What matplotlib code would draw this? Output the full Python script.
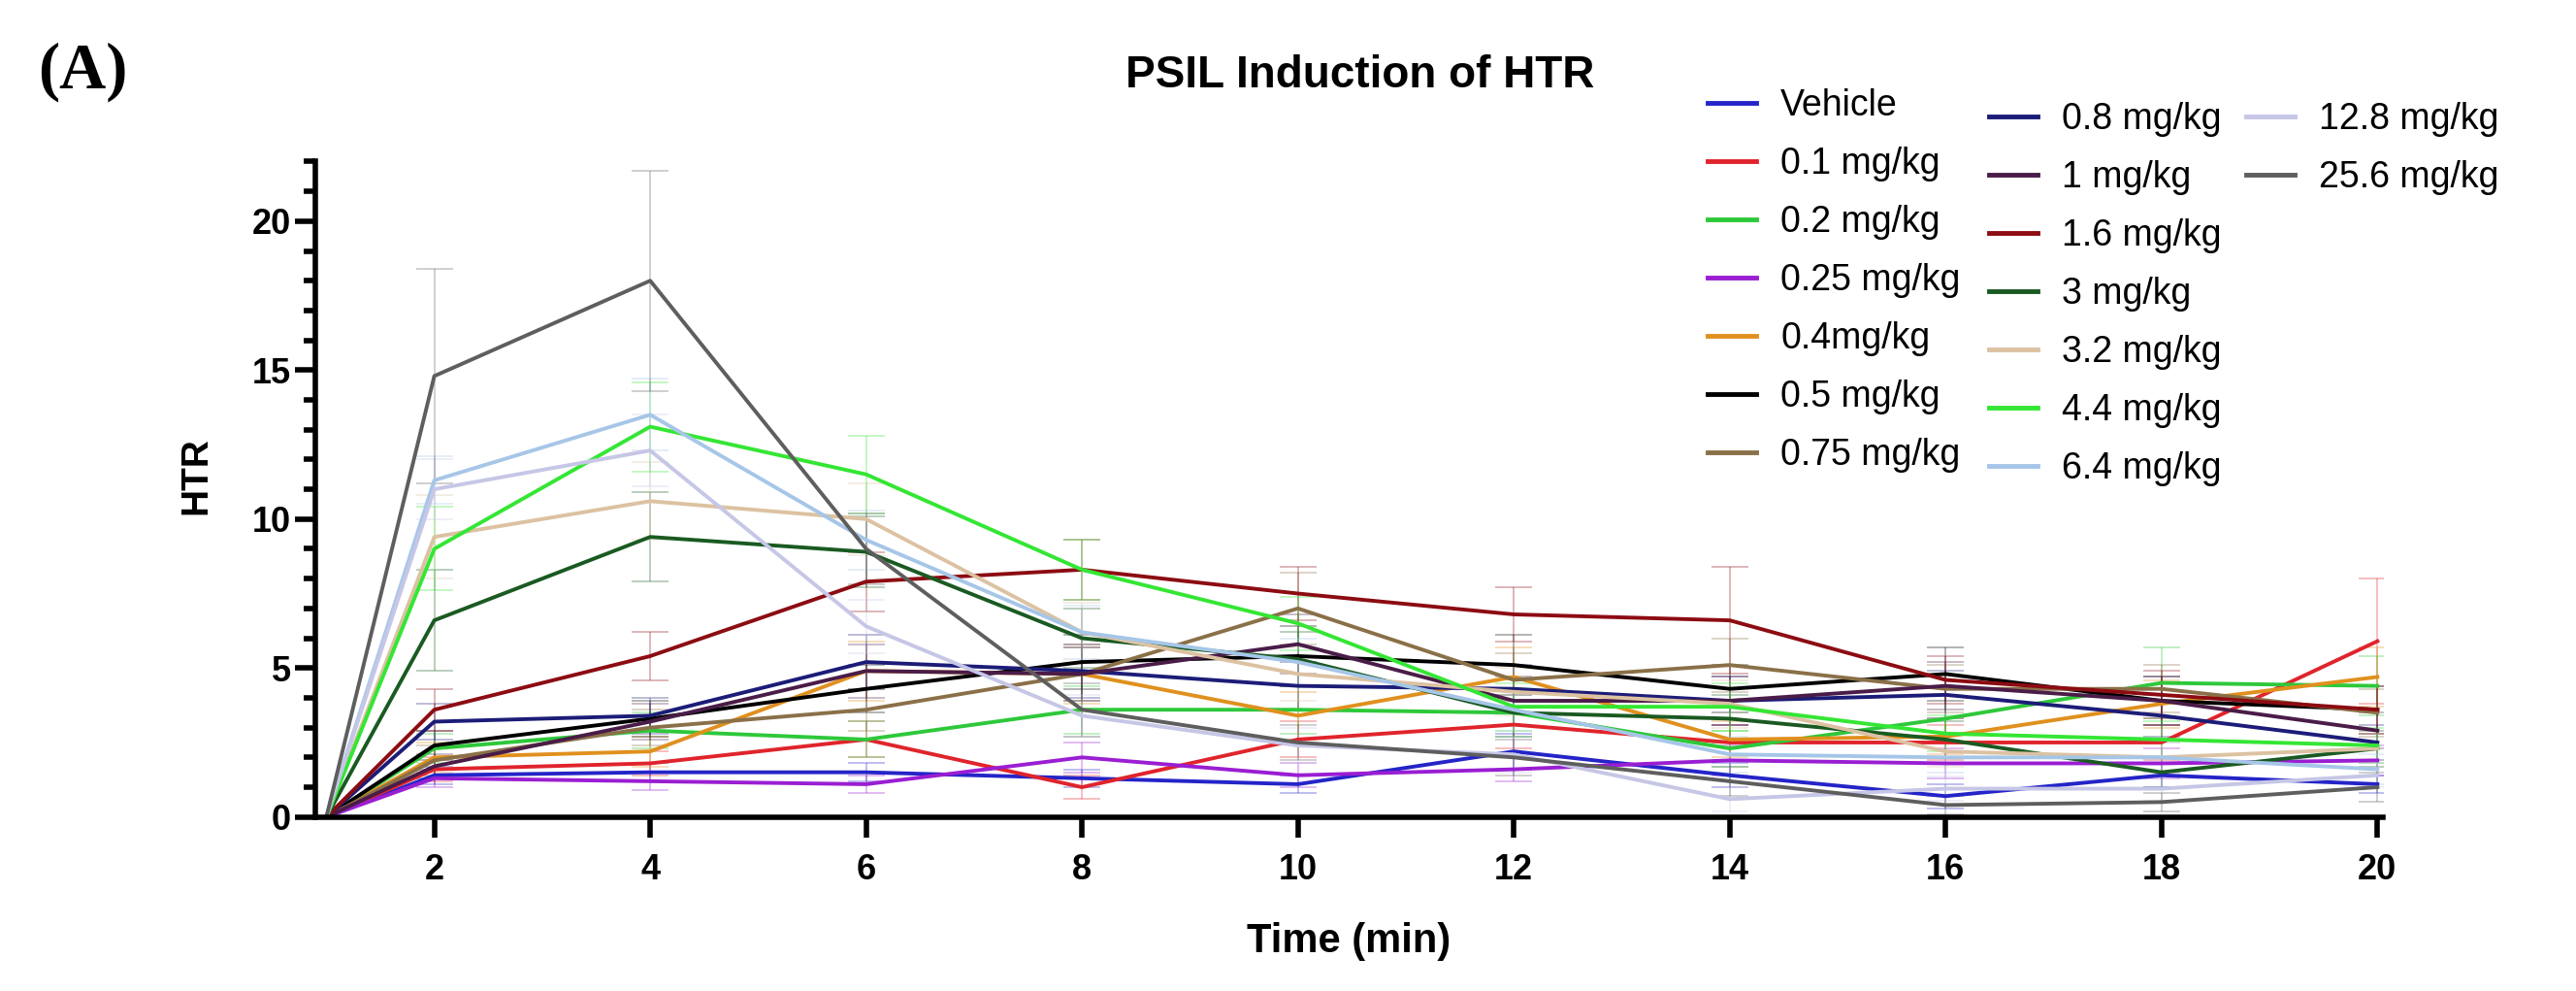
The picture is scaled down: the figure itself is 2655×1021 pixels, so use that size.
import matplotlib
matplotlib.use("Agg")
import matplotlib.pyplot as plt
from matplotlib.lines import Line2D
from matplotlib.ticker import MultipleLocator

plt.rcParams['font.family'] = ['Liberation Sans', 'DejaVu Sans']

# time points (first point is the 0 baseline at the axis origin)
time = [1, 2, 4, 6, 8, 10, 12, 14, 16, 18, 20]

labels = ["Vehicle", "0.1 mg/kg", "0.2 mg/kg", "0.25 mg/kg", "0.4mg/kg", "0.5 mg/kg",
          "0.75 mg/kg", "0.8 mg/kg", "1 mg/kg", "1.6 mg/kg", "3 mg/kg", "3.2 mg/kg",
          "4.4 mg/kg", "6.4 mg/kg", "12.8 mg/kg", "25.6 mg/kg"]

colors = ["#2424c8", "#e0242c", "#2ec83a", "#9a1ed2", "#e0901e", "#000000",
          "#8a7048", "#1c1c78", "#4a1c48", "#8c0c12", "#1a5a22", "#dcc2a2",
          "#34e634", "#a6c6e8", "#c6c6e6", "#5e5e5e"]

vehicle = [0, 1.4, 1.5, 1.5, 1.3, 1.1, 2.2, 1.4, 0.7, 1.4, 1.1]
d0_1 = [0, 1.6, 1.8, 2.6, 1.0, 2.6, 3.1, 2.5, 2.5, 2.5, 5.9]
d0_2 = [0, 2.3, 2.9, 2.6, 3.6, 3.6, 3.5, 2.3, 3.3, 4.5, 4.4]
d0_25 = [0, 1.3, 1.2, 1.1, 2.0, 1.4, 1.6, 1.9, 1.8, 1.8, 1.9]
d0_4 = [0, 2.0, 2.2, 4.9, 4.8, 3.4, 4.7, 2.6, 2.7, 3.8, 4.7]
d0_5 = [0, 2.4, 3.3, 4.3, 5.2, 5.4, 5.1, 4.3, 4.8, 3.9, 3.6]
d0_75 = [0, 1.9, 3.0, 3.6, 4.8, 7.0, 4.6, 5.1, 4.3, 4.3, 3.5]
d0_8 = [0, 3.2, 3.4, 5.2, 4.9, 4.4, 4.3, 3.9, 4.1, 3.4, 2.5]
d1 = [0, 1.7, 3.2, 4.9, 4.8, 5.8, 3.9, 3.9, 4.4, 3.9, 2.9]
d1_6 = [0, 3.6, 5.4, 7.9, 8.3, 7.5, 6.8, 6.6, 4.6, 4.1, 3.6]
d3 = [0, 6.6, 9.4, 8.9, 6.0, 5.3, 3.5, 3.3, 2.6, 1.5, 2.3]
d3_2 = [0, 9.4, 10.6, 10.0, 6.2, 4.8, 4.2, 3.8, 2.2, 2.0, 2.3]
d4_4 = [0, 9.0, 13.1, 11.5, 8.3, 6.5, 3.7, 3.7, 2.8, 2.6, 2.4]
d6_4 = [0, 11.3, 13.5, 9.3, 6.2, 5.2, 3.6, 2.1, 2.0, 2.0, 1.6]
d12_8 = [0, 11.0, 12.3, 6.4, 3.4, 2.4, 2.1, 0.6, 0.95, 0.95, 1.4]
d25_6 = [0, 14.8, 18.0, 9.0, 3.6, 2.5, 2.0, 1.2, 0.4, 0.5, 1.0]

# SEM
sem_vehicle = [0, 0.3, 0.3, 0.3, 0.3, 0.3, 0.6, 0.4, 0.4, 0.4, 0.3]
sem_0_1 = [0, 0.4, 0.4, 0.6, 0.4, 0.6, 0.8, 0.6, 0.6, 0.6, 2.1]
sem_0_2 = [0, 0.5, 0.6, 0.6, 0.8, 0.8, 0.8, 0.6, 0.8, 1.2, 1.0]
sem_0_25 = [0, 0.3, 0.3, 0.3, 0.5, 0.4, 0.4, 0.5, 0.5, 0.5, 0.5]
sem_0_4 = [0, 0.5, 0.5, 1.0, 1.0, 0.8, 1.0, 0.6, 0.6, 0.8, 1.0]
sem_0_5 = [0, 0.5, 0.6, 0.8, 0.9, 1.0, 1.0, 0.8, 0.9, 0.8, 0.8]
sem_0_75 = [0, 0.5, 0.6, 0.7, 0.9, 1.2, 0.9, 0.9, 0.8, 0.8, 0.8]
sem_0_8 = [0, 0.6, 0.6, 0.9, 0.9, 0.8, 0.8, 0.8, 0.8, 0.7, 0.6]
sem_1 = [0, 0.4, 0.6, 0.9, 0.9, 1.0, 0.8, 0.8, 0.8, 0.8, 0.6]
sem_1_6 = [0, 0.7, 0.8, 1.0, 1.0, 0.9, 0.9, 1.8, 0.8, 0.8, 0.8]
sem_3 = [0, 1.7, 1.5, 1.2, 1.0, 0.9, 0.8, 0.8, 0.6, 0.5, 0.6]
sem_3_2 = [0, 1.4, 1.3, 1.2, 1.0, 0.9, 0.8, 0.8, 0.5, 0.5, 0.5]
sem_4_4 = [0, 1.4, 1.5, 1.3, 1.0, 0.9, 0.8, 0.8, 0.6, 0.6, 0.6]
sem_6_4 = [0, 0.8, 1.2, 1.0, 0.9, 0.8, 0.7, 0.6, 0.5, 0.5, 0.5]
sem_12_8 = [0, 1.0, 1.2, 0.9, 0.7, 0.6, 0.6, 0.4, 0.4, 0.4, 0.4]
sem_25_6 = [0, 3.6, 3.7, 1.2, 0.9, 0.6, 0.6, 0.5, 0.3, 0.3, 0.5]

series = [vehicle, d0_1, d0_2, d0_25, d0_4, d0_5, d0_75, d0_8, d1, d1_6,
          d3, d3_2, d4_4, d6_4, d12_8, d25_6]
sems = [sem_vehicle, sem_0_1, sem_0_2, sem_0_25, sem_0_4, sem_0_5, sem_0_75, sem_0_8,
        sem_1, sem_1_6, sem_3, sem_3_2, sem_4_4, sem_6_4, sem_12_8, sem_25_6]

fig = plt.figure(figsize=(26.55, 10.21), dpi=100)
ax = fig.add_axes([0.1225, 0.1756, 0.8025, 0.6614])

for y, e, c in zip(series, sems, colors):
    ax.errorbar(time, y, yerr=e, fmt='none', ecolor=c, elinewidth=1.2,
                capsize=14, capthick=1.2, alpha=0.35)
for y, c, lab in zip(series, colors, labels):
    ax.plot(time, y, color=c, lw=2.8, label=lab)

ax.set_xlim(0.9, 20.05)
ax.set_ylim(0, 22)
ax.set_xticks(range(2, 21, 2))
ax.set_yticks([0, 5, 10, 15, 20])
ax.yaxis.set_minor_locator(MultipleLocator(1))
for s in ["top", "right"]:
    ax.spines[s].set_visible(False)
for s in ["left", "bottom"]:
    ax.spines[s].set_linewidth(4)
ax.tick_params(axis='both', which='major', length=15, width=4, labelsize=26)
ax.tick_params(axis='x', which='major', pad=12)
ax.tick_params(axis='y', which='major', pad=3)
ax.tick_params(axis='y', which='minor', length=9, width=4)
for t in ax.get_xticklabels() + ax.get_yticklabels():
    t.set_fontweight('bold')

ax.set_xlabel("Time (min)", fontsize=30, fontweight='bold', labelpad=26)
ax.set_ylabel("HTR", fontsize=28, fontweight='bold', labelpad=12)
ax.yaxis.set_label_coords(-0.049, 0.52)

fig.text(0.528, 0.924, "PSIL Induction of HTR", ha='center', va='center',
         fontsize=33, fontweight='bold')
fig.text(0.032, 0.927, "(A)", ha='center', va='center', fontsize=48,
         fontweight='bold', family=['Liberation Serif', 'DejaVu Serif'])

# legend in three columns, the second and third a bit lower than the first
handles = [Line2D([0], [0], color=c, lw=3.5) for c in colors]
cols = [(0, 7, 0.663, 0.911), (7, 14, 0.772, 0.897), (14, 16, 0.872, 0.897)]
for i0, i1, lx, ly in cols:
    fig.legend(handles[i0:i1], labels[i0:i1], loc='upper left',
               bbox_to_anchor=(lx, ly), frameon=False, fontsize=27,
               handlelength=1.33, handletextpad=0.67, labelspacing=0.64,
               borderpad=0, borderaxespad=0)

fig.savefig("out.png", dpi=100)
